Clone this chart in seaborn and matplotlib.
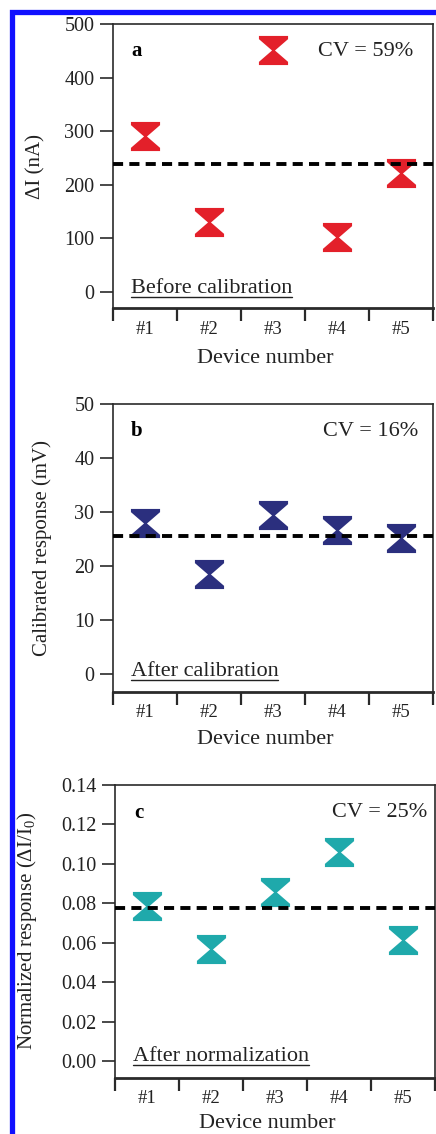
import matplotlib
matplotlib.use("Agg")
import matplotlib.pyplot as plt
from matplotlib.patches import Rectangle
from matplotlib.lines import Line2D
from matplotlib.path import Path
import seaborn as sns
import pandas as pd
import numpy as np

# ---- data ----
devices = ["#1", "#2", "#3", "#4", "#5"]
before_calibration = [290, 131, 452, 102, 221]          # ΔI (nA)
after_calibration = [28.0, 18.5, 29.5, 26.7, 25.3]      # mV
after_normalization = [0.0788, 0.0568, 0.0856, 0.1059, 0.0614]  # ΔI/I0
cv_labels = ["CV = 59%", "CV = 16%", "CV = 25%"]
panel_letters = ["a", "b", "c"]
condition_labels = ["Before calibration", "After calibration", "After normalization"]
ylabels = ["ΔI (nA)", "Calibrated response (mV)", r"Normalized response (ΔI/I$_{0}$)"]
yticks = [[0, 100, 200, 300, 400, 500],
          [0, 10, 20, 30, 40, 50],
          [0.00, 0.02, 0.04, 0.06, 0.08, 0.10, 0.12, 0.14]]
ytick_fmt = ["{:.0f}", "{:.0f}", "{:.2f}"]
ylims = [(-31, 500), (-3.2, 50), (-0.0082, 0.14)]
colors = ["#e3202a", "#2b2f7e", "#1fa9ab"]

sns.set_theme(style="white")
plt.rcParams["font.family"] = ["Liberation Serif", "DejaVu Serif"]
plt.rcParams["mathtext.fontset"] = "custom"
plt.rcParams["mathtext.rm"] = "Liberation Serif"
plt.rcParams["mathtext.it"] = "Liberation Serif:italic"

W, H = 436, 1134
fig = plt.figure(figsize=(W / 100, H / 100), dpi=100)

# hourglass marker
hourglass = Path([(-1, 1), (1, 1), (1, 0.78), (0.1, 0.0), (1, -0.78), (1, -1),
                  (-1, -1), (-1, -0.78), (-0.1, 0.0), (-1, 0.78), (-1, 1)],
                 [Path.MOVETO] + [Path.LINETO] * 9 + [Path.CLOSEPOLY])

# axes boxes in pixels: left, right, top, bottom
boxes = [(113, 433, 24, 308.3), (113, 433, 404, 691.7), (115, 435, 785, 1077.5)]
ylabel_x = [36, 42, 27]
xlabel_y = [358, 740, 1123]
cv_x = [0.9375, 0.953, 0.975]

text_color = "#222222"
spine_color = "#2a2a2a"
series = [before_calibration, after_calibration, after_normalization]

for i in range(3):
    l, r, t, b = boxes[i]
    ax = fig.add_axes([l / W, 1 - b / H, (r - l) / W, (b - t) / H])
    df = pd.DataFrame({"device": devices, "value": series[i]})
    sns.scatterplot(data=df, x="device", y="value", marker=hourglass, s=440,
                    color=colors[i], linewidth=0, ax=ax, zorder=3)
    mean_val = float(np.mean(series[i]))
    ax.axhline(mean_val, color="black", linewidth=2.8, dashes=(2.6, 1.6), zorder=4)

    ax.set_xlim(-0.5, 4.5)
    ax.set_ylim(*ylims[i])
    ax.set_yticks(yticks[i])
    ax.set_yticklabels([ytick_fmt[i].format(v) for v in yticks[i]])
    ax.set_xticks(range(len(devices)))
    ax.set_xticklabels(devices)
    ax.set_xticks(np.arange(-0.5, 5.0, 1.0), minor=True)

    for s in ax.spines.values():
        s.set_visible(True)
        s.set_color(spine_color)
        s.set_linewidth(1.2)
    ax.spines["bottom"].set_linewidth(2.0)

    ax.tick_params(axis="y", which="major", direction="out", length=9.5, width=1.2,
                   color=spine_color, labelsize=14.5, labelcolor=text_color, pad=4, left=True)
    ax.tick_params(axis="x", which="major", length=0, labelsize=13.5,
                   labelcolor=text_color, pad=9, bottom=True)
    ax.tick_params(axis="x", which="minor", direction="out", length=9, width=1.6,
                   color=spine_color, bottom=True)

    ax.set_ylabel(ylabels[i], fontsize=15, color=text_color)
    ax.yaxis.set_label_coords((ylabel_x[i] - l) / (r - l), 0.5)
    ax.yaxis.label.set_va("center")
    ax.set_xlabel("Device number", fontsize=16, color=text_color)
    ax.xaxis.set_label_coords(0.475, (b - xlabel_y[i]) / (b - t))
    ax.xaxis.label.set_va("center")

    ax.text(0.075, 0.905, panel_letters[i], transform=ax.transAxes, fontsize=15,
            fontweight="bold", color="black", ha="center", va="center")
    ax.text(cv_x[i], 0.905, cv_labels[i], transform=ax.transAxes,
            fontsize=16, color=text_color, ha="right", va="center")
    ct = ax.text(0.055, 0.055, condition_labels[i], transform=ax.transAxes, fontsize=16,
                 color=text_color, ha="left", va="baseline")
    ax._cond_text = ct

fig.canvas.draw()
renderer = fig.canvas.get_renderer()
for ax in fig.axes:
    ct = ax._cond_text
    bb = ct.get_window_extent(renderer).transformed(ax.transAxes.inverted())
    yb = 0.055 - 4.0 / (ax.bbox.height)
    ax.add_line(Line2D([bb.x0, bb.x1], [yb, yb], transform=ax.transAxes,
                       color=text_color, linewidth=1.0))

# blue frame
fig.patches.append(Rectangle((11.5 / W, -0.1), 2.0, 1.1 - 11.5 / H, transform=fig.transFigure,
                             fill=False, edgecolor="#1010ff", linewidth=3.8))

fig.savefig("out.png", dpi=100)
